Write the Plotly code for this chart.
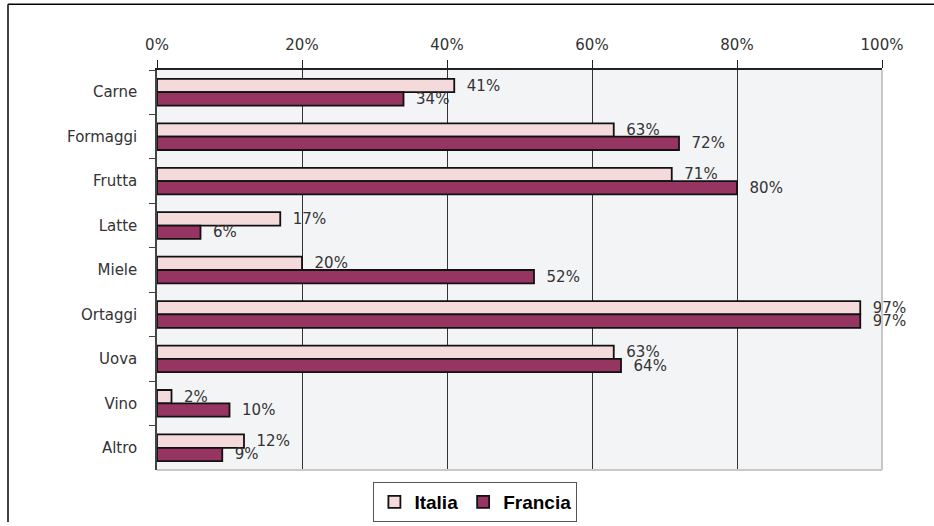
import plotly.graph_objects as go

categories = ["Carne", "Formaggi", "Frutta", "Latte", "Miele", "Ortaggi", "Uova", "Vino", "Altro"]
italia = [41, 63, 71, 17, 20, 97, 63, 2, 12]
francia = [34, 72, 80, 6, 52, 97, 64, 10, 9]
x_ticks = [0, 20, 40, 60, 80, 100]
x_tick_labels = [f"{v}%" for v in x_ticks]

FONT = "DejaVu Sans"
W, H = 934, 526
L, R, T, B = 157, 882, 70, 478

def px_x(p):
    return (p - L) / (R - L)

def px_y(p):
    return (B - p) / (B - T)

def labels(vals):
    return ["\u00a0\u00a0" + f"{v}%" for v in vals]

fig = go.Figure()
fig.add_trace(go.Bar(
    name="Italia", y=categories, x=italia, orientation="h",
    marker=dict(color="#F5DADB", line=dict(color="#111111", width=1.8)),
    text=labels(italia), texttemplate="%{text}", textposition="outside",
    textfont=dict(family=FONT, size=15, color="#333333"),
    constraintext="none", cliponaxis=False,
))
fig.add_trace(go.Bar(
    name="Francia", y=categories, x=francia, orientation="h",
    marker=dict(color="#963562", line=dict(color="#111111", width=1.8)),
    text=labels(francia), texttemplate="%{text}", textposition="outside",
    textfont=dict(family=FONT, size=15, color="#333333"),
    constraintext="none", cliponaxis=False,
))

fig.update_layout(
    width=W, height=H,
    margin=dict(l=L, r=W - R, t=T, b=H - B, pad=0),
    barmode="group", bargap=0.4, bargroupgap=0,
    plot_bgcolor="#F3F4F6", paper_bgcolor="white",
    font=dict(family=FONT, size=15, color="#333333"),
    showlegend=True,
    legend=dict(
        orientation="h", xref="container", yref="container",
        x=0.509, y=(H - 482) / H, xanchor="center", yanchor="top",
        bordercolor="#555555", borderwidth=1, bgcolor="white",
        font=dict(family="Liberation Sans", size=19, color="#000000", weight="bold"),
        traceorder="normal", itemwidth=30,
    ),
    xaxis=dict(
        side="top", range=[0, 100], tickvals=x_ticks, ticktext=x_tick_labels,
        showgrid=True, gridcolor="#333333", gridwidth=1,
        showline=True, linecolor="#222222", linewidth=1.5,
        ticks="outside", ticklen=8, tickcolor="#222222",
        ticklabelstandoff=4,
        zeroline=False, fixedrange=True,
        tickfont=dict(family=FONT, size=15, color="#333333"),
    ),
    yaxis=dict(
        autorange="reversed", type="category",
        showline=True, linecolor="#444444", linewidth=1.5,
        ticks="outside", ticklen=6, tickcolor="#444444",
        tickson="boundaries", showgrid=False,
        ticklabelstandoff=15,
        tickfont=dict(family=FONT, size=15, color="#333333"),
    ),
    shapes=[
        dict(type="line", xref="paper", yref="paper", x0=1, x1=1, y0=0, y1=1,
             line=dict(color="#C8C8C8", width=2), layer="above"),
        dict(type="line", xref="paper", yref="paper", x0=0, x1=1, y0=0, y1=0,
             line=dict(color="#C8C8C8", width=2), layer="above"),
        dict(type="line", xref="paper", yref="paper", x0=px_x(8), x1=px_x(W + 5),
             y0=px_y(3), y1=px_y(3), line=dict(color="#000000", width=1.5)),
        dict(type="line", xref="paper", yref="paper", x0=px_x(8), x1=px_x(8),
             y0=px_y(3), y1=px_y(H + 5), line=dict(color="#000000", width=1.5)),
    ],
)

fig.write_html("out.html", config={"displayModeBar": False},
               post_script="document.body.style.margin='0px';")
